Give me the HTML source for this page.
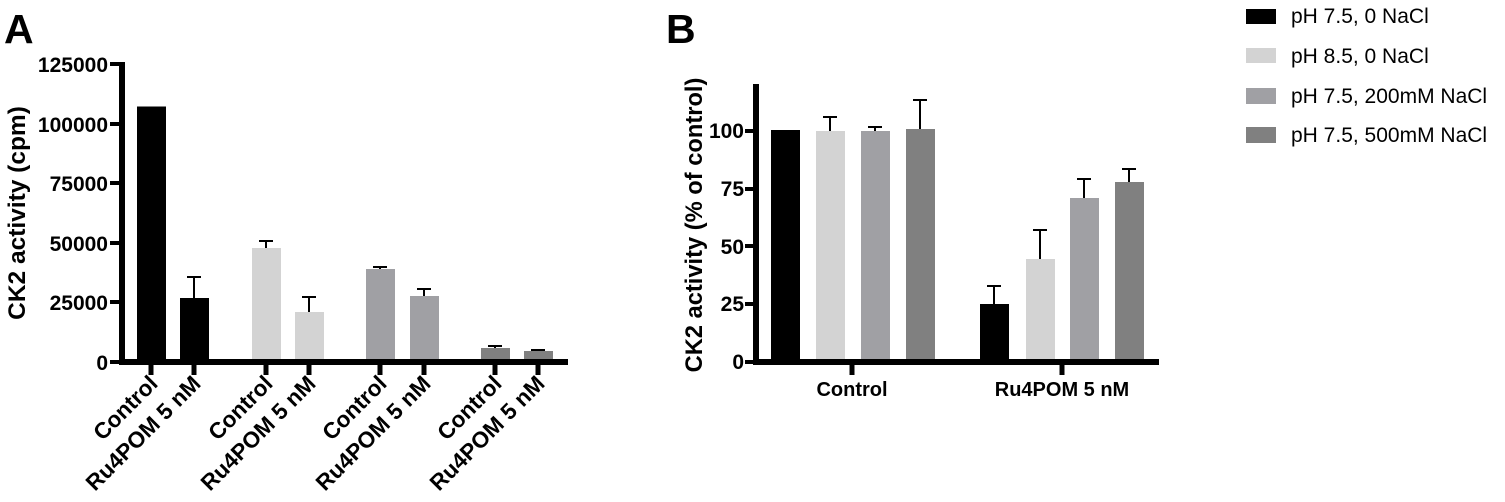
<!DOCTYPE html>
<html><head><meta charset="utf-8"><style>
html,body{margin:0;padding:0;background:#fff;}
svg{display:block;font-family:"Liberation Sans",Arial,sans-serif;}
</style></head><body>
<svg width="1505" height="502" viewBox="0 0 1505 502" xmlns="http://www.w3.org/2000/svg">
<text x="4" y="43" font-size="41" font-weight="bold">A</text>
<text x="666" y="43" font-size="41" font-weight="bold">B</text>

<!-- Panel A -->
<g font-weight="bold" font-size="21" text-anchor="end">
<text x="108" y="72">125000</text>
<text x="108" y="132">100000</text>
<text x="108" y="191">75000</text>
<text x="108" y="251">50000</text>
<text x="108" y="310">25000</text>
<text x="108" y="370">0</text>
</g>
<g stroke="#000" stroke-width="4">
<line x1="110" y1="64" x2="124" y2="64"/><line x1="110" y1="124" x2="124" y2="124"/>
<line x1="110" y1="183" x2="124" y2="183"/><line x1="110" y1="243" x2="124" y2="243"/>
<line x1="110" y1="302" x2="124" y2="302"/><line x1="110" y1="362" x2="124" y2="362"/>
</g>
<text transform="translate(25,213) rotate(-90)" font-size="24.5" font-weight="bold" text-anchor="middle">CK2 activity (cpm)</text>
<g>
<rect x="137" y="108" width="29" height="254" fill="#000"/>
<rect x="180" y="298" width="29" height="64" fill="#000"/>
<rect x="252" y="248" width="29" height="114" fill="#d3d3d3"/>
<rect x="295" y="312" width="29" height="50" fill="#d3d3d3"/>
<rect x="366" y="269" width="29" height="93" fill="#a0a0a4"/>
<rect x="410" y="296" width="29" height="66" fill="#a0a0a4"/>
<rect x="481" y="348" width="29" height="14" fill="#808080"/>
<rect x="524" y="351" width="29" height="11" fill="#808080"/>
</g>
<g stroke="#000" stroke-width="2" fill="none">
<path d="M137 107.5H166"/>
<path d="M194 298V277M187 277H201"/>
<path d="M266 248V241M259 241H273"/>
<path d="M309 312V297M302 297H316"/>
<path d="M380 269V267M373 267H387"/>
<path d="M424 296V289M417 289H431"/>
<path d="M495 348V346M488 346H502"/>
<path d="M538 351V350M531 350H545"/>
</g>
<g stroke="#000">
<line x1="122" y1="62" x2="122" y2="365" stroke-width="6"/>
<line x1="119" y1="362" x2="568" y2="362" stroke-width="6"/>
<g stroke-width="5">
<line x1="151" y1="362" x2="151" y2="375"/><line x1="194" y1="362" x2="194" y2="375"/>
<line x1="266" y1="362" x2="266" y2="375"/><line x1="309" y1="362" x2="309" y2="375"/>
<line x1="380" y1="362" x2="380" y2="375"/><line x1="424" y1="362" x2="424" y2="375"/>
<line x1="495" y1="362" x2="495" y2="375"/><line x1="538" y1="362" x2="538" y2="375"/>
</g></g>
<g font-size="22.5" font-weight="bold" text-anchor="end">
<text transform="translate(159,385) rotate(-45)">Control</text>
<text transform="translate(202,385) rotate(-45)">Ru4POM 5 nM</text>
<text transform="translate(274,385) rotate(-45)">Control</text>
<text transform="translate(317,385) rotate(-45)">Ru4POM 5 nM</text>
<text transform="translate(388,385) rotate(-45)">Control</text>
<text transform="translate(432,385) rotate(-45)">Ru4POM 5 nM</text>
<text transform="translate(503,385) rotate(-45)">Control</text>
<text transform="translate(546,385) rotate(-45)">Ru4POM 5 nM</text>
</g>

<!-- Panel B -->
<g font-weight="bold" font-size="21" text-anchor="end">
<text x="744" y="138">100</text>
<text x="744" y="196">75</text>
<text x="744" y="254">50</text>
<text x="744" y="311">25</text>
<text x="744" y="369">0</text>
</g>
<g stroke="#000" stroke-width="4">
<line x1="745" y1="131" x2="758" y2="131"/><line x1="745" y1="189" x2="758" y2="189"/>
<line x1="745" y1="246" x2="758" y2="246"/><line x1="745" y1="304" x2="758" y2="304"/>
<line x1="745" y1="362" x2="758" y2="362"/>
</g>
<text transform="translate(702,225) rotate(-90)" font-size="23.7" font-weight="bold" text-anchor="middle">CK2 activity (% of control)</text>
<g>
<rect x="771" y="131" width="29" height="231" fill="#000"/>
<rect x="816" y="131" width="29" height="231" fill="#d3d3d3"/>
<rect x="861" y="131" width="29" height="231" fill="#a0a0a4"/>
<rect x="906" y="129" width="29" height="233" fill="#808080"/>
<rect x="980" y="304" width="29" height="58" fill="#000"/>
<rect x="1026" y="259" width="29" height="103" fill="#d3d3d3"/>
<rect x="1070" y="198" width="29" height="164" fill="#a0a0a4"/>
<rect x="1115" y="182" width="29" height="180" fill="#808080"/>
</g>
<g stroke="#000" stroke-width="2" fill="none">
<path d="M771 131H800"/>
<path d="M830 131V117M823 117H837"/>
<path d="M875 131V127M868 127H882"/>
<path d="M920 129V100M913 100H927"/>
<path d="M994 304V286M987 286H1001"/>
<path d="M1040 259V230M1033 230H1047"/>
<path d="M1084 198V179M1077 179H1091"/>
<path d="M1129 182V169M1122 169H1136"/>
</g>
<g stroke="#000">
<line x1="756" y1="84" x2="756" y2="365" stroke-width="6"/>
<line x1="753" y1="362" x2="1159" y2="362" stroke-width="6"/>
<line x1="852" y1="362" x2="852" y2="375" stroke-width="5"/>
<line x1="1062" y1="362" x2="1062" y2="375" stroke-width="5"/>
</g>
<g font-size="20" font-weight="bold" text-anchor="middle">
<text x="852" y="396">Control</text>
<text x="1062" y="396">Ru4POM 5 nM</text>
</g>

<!-- Legend -->
<rect x="1246" y="9" width="30" height="15" fill="#000"/>
<rect x="1246" y="48" width="30" height="15" fill="#d3d3d3"/>
<rect x="1246" y="88" width="30" height="16" fill="#a0a0a4"/>
<rect x="1246" y="127" width="30" height="16" fill="#808080"/>
<g font-size="21">
<text x="1291" y="23">pH 7.5, 0 NaCl</text>
<text x="1291" y="63">pH 8.5, 0 NaCl</text>
<text x="1291" y="103">pH 7.5, 200mM NaCl</text>
<text x="1291" y="142">pH 7.5, 500mM NaCl</text>
</g>
</svg>
</body></html>
